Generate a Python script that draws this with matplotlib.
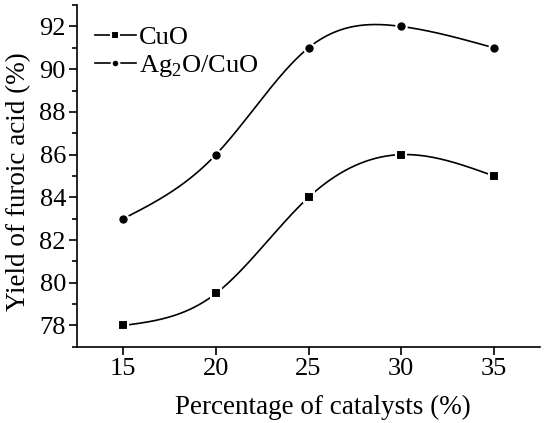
import numpy as np
import matplotlib
matplotlib.use("Agg")
import matplotlib.pyplot as plt
from matplotlib.ticker import MultipleLocator

x = [15, 20, 25, 30, 35]
cuo = [78.0, 79.5, 84.0, 86.0, 85.0]
ag2o_cuo = [83.0, 86.0, 91.0, 92.0, 91.0]
labels = ["CuO", "Ag$_2$O/CuO"]


def natural_spline(xs, ys, xnew):
    xs = np.asarray(xs, float)
    ys = np.asarray(ys, float)
    n = len(xs)
    h = np.diff(xs)
    A = np.zeros((n, n))
    b = np.zeros(n)
    A[0, 0] = 1
    A[-1, -1] = 1
    for i in range(1, n - 1):
        A[i, i - 1] = h[i - 1]
        A[i, i] = 2 * (h[i - 1] + h[i])
        A[i, i + 1] = h[i]
        b[i] = 3 * ((ys[i + 1] - ys[i]) / h[i] - (ys[i] - ys[i - 1]) / h[i - 1])
    c = np.linalg.solve(A, b)
    out = np.empty_like(xnew)
    for k, xv in enumerate(xnew):
        i = min(np.searchsorted(xs, xv, side="right") - 1, n - 2)
        i = max(i, 0)
        bi = (ys[i + 1] - ys[i]) / h[i] - h[i] * (2 * c[i] + c[i + 1]) / 3
        di = (c[i + 1] - c[i]) / (3 * h[i])
        dx = xv - xs[i]
        out[k] = ys[i] + bi * dx + c[i] * dx ** 2 + di * dx ** 3
    return out


plt.rcParams["font.family"] = ["Liberation Serif", "DejaVu Serif"]
plt.rcParams["mathtext.fontset"] = "custom"
plt.rcParams["mathtext.rm"] = "Liberation Serif"

fig = plt.figure(figsize=(5.5, 4.23), dpi=100)
ax = fig.add_axes([0.14, 0.18, 0.842, 0.808])

xs = np.linspace(min(x), max(x), 300)
fs = 19
lfs = 19.5
for ys, mk, lab in [(cuo, "s", labels[0]), (ag2o_cuo, "o", labels[1])]:
    ax.plot(xs, natural_spline(x, ys, xs), color="black", lw=1.2)
    ax.plot(x, ys, ls="none", marker=mk, mfc="black", mec="white", mew=1.5,
            ms=7.5 if mk == "o" else 7)
    ax.plot([], [], color="black", lw=1.2, marker=mk, mfc="black", mec="white",
            mew=1.5, ms=5.5, label=lab)

ax.set_xlim(12.5, 37.5)
ax.set_ylim(77, 93)
ax.set_xticks(x)
ax.yaxis.set_major_locator(MultipleLocator(2))
ax.yaxis.set_minor_locator(MultipleLocator(1))
ax.spines["top"].set_visible(False)
ax.spines["right"].set_visible(False)
for s in ("left", "bottom"):
    ax.spines[s].set_linewidth(1.2)
ax.tick_params(axis="both", which="major", direction="out", length=6, width=1.2,
               labelsize=fs, pad=2)
ax.tick_params(axis="y", which="minor", direction="out", length=3.5, width=1.2)
ax.set_xlabel("Percentage of catalysts (%)", fontsize=lfs)
ax.set_ylabel("Yield of furoic acid (%)", fontsize=lfs)
ax.xaxis.set_label_coords(0.532, -0.14)
ax.yaxis.set_label_coords(-0.1, 0.484)

ax.legend(loc="upper left", frameon=False, fontsize=fs, handlelength=1.55,
          handletextpad=0.1, borderaxespad=0.0, labelspacing=0.15,
          bbox_to_anchor=(0.016, 0.97))

fig.savefig("out.png", dpi=100)
